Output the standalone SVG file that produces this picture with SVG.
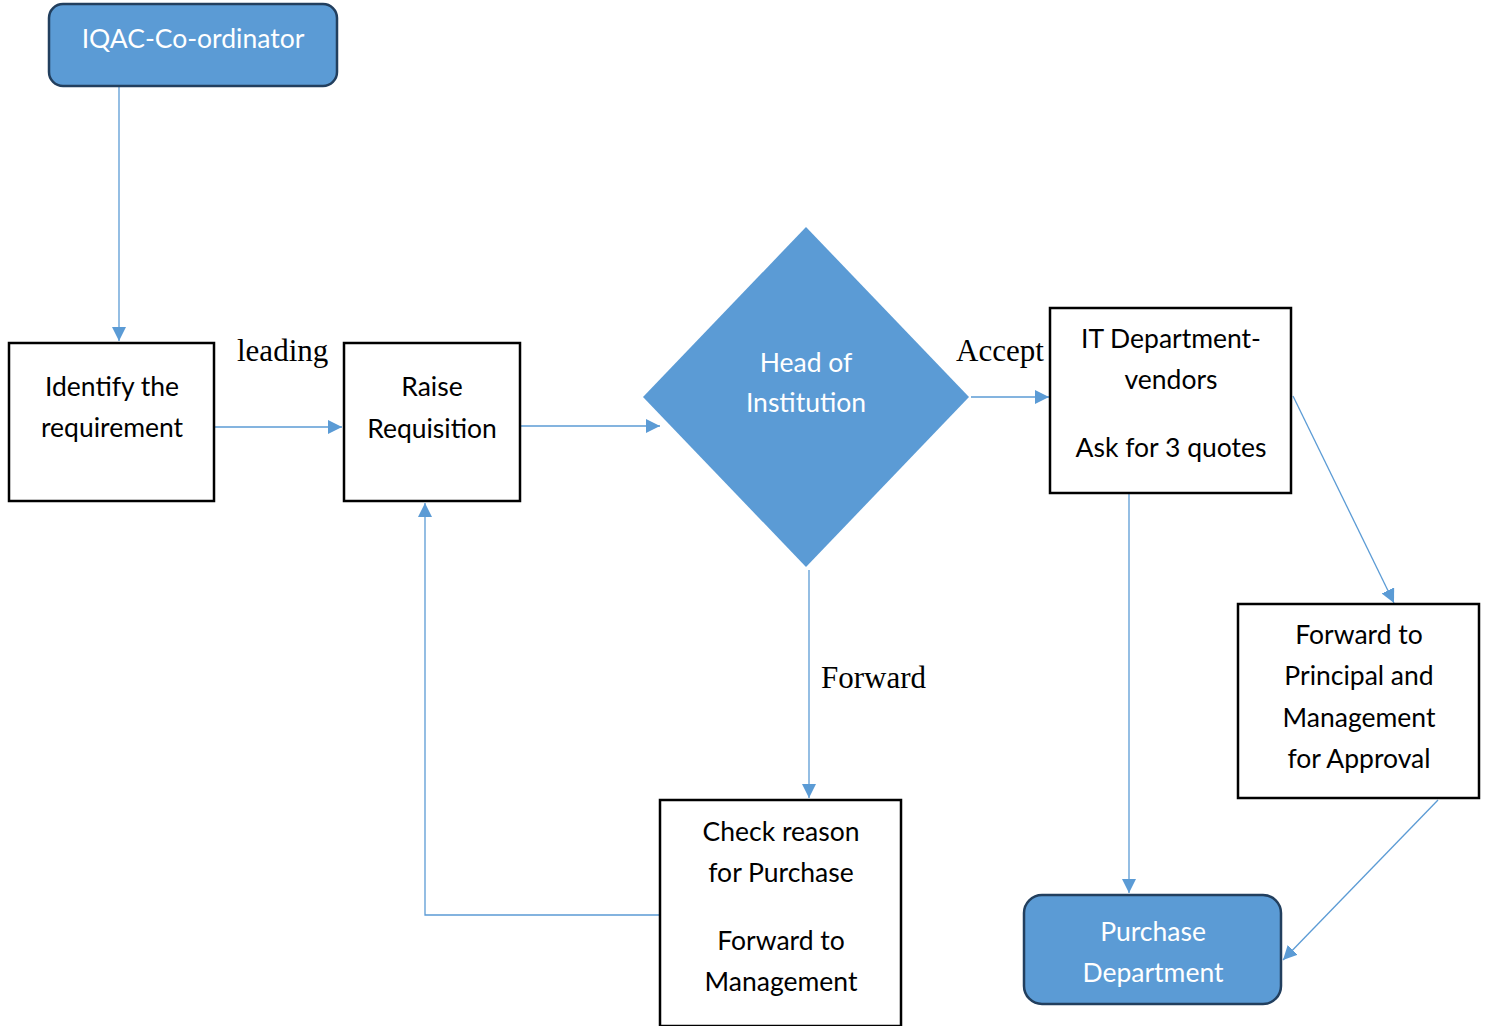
<svg xmlns="http://www.w3.org/2000/svg" width="1489" height="1026" viewBox="0 0 1489 1026">
<style>
.box{fill:#fff;stroke:#000;stroke-width:2.5}
.term{fill:#5B9BD5;stroke:#223F5E;stroke-width:2.5}
.t{font-family:Lato,"Open Sans","Liberation Sans",sans-serif;font-size:26.5px;fill:#000;text-anchor:middle}
.w{fill:#fff}
.lbl{font-family:"Liberation Serif",serif;font-size:31px;fill:#000}
.c{fill:none;stroke:#5B9BD5;stroke-width:1.3}
</style>
<defs>
<marker id="a" viewBox="0 0 10 10" refX="10" refY="5" markerWidth="14" markerHeight="14" markerUnits="userSpaceOnUse" orient="auto">
<path d="M0,0 L10,5 L0,10 z" fill="#5B9BD5"/>
</marker>
</defs>
<rect width="1489" height="1026" fill="#fff"/>
<g id="connectors">
<path class="c" d="M119,86 V341" marker-end="url(#a)"/>
<path class="c" d="M214,427 H342" marker-end="url(#a)"/>
<path class="c" d="M521,426 H660" marker-end="url(#a)"/>
<path class="c" d="M971,397 H1049" marker-end="url(#a)"/>
<path class="c" d="M1293,396 L1394,603" marker-end="url(#a)"/>
<path class="c" d="M1438,800 L1283,960" marker-end="url(#a)"/>
<path class="c" d="M1129,494 V893" marker-end="url(#a)"/>
<path class="c" d="M809,570 V798" marker-end="url(#a)"/>
<path class="c" d="M660,915 H425 V503" marker-end="url(#a)"/>
</g>
<g id="labels">
<text class="lbl" x="237" y="361">leading</text>
<text class="lbl" x="956" y="361">Accept</text>
<text class="lbl" x="821" y="688">Forward</text>
</g>
<g id="iqac">
<rect class="term" x="49" y="4" width="288" height="82" rx="14"/>
<text class="t w" x="193" y="48">IQAC-Co-ordinator</text>
</g>
<g id="identify">
<rect class="box" x="9" y="343" width="205" height="158"/>
<text class="t" x="112" y="396">Identify the</text>
<text class="t" x="112" y="437">requirement</text>
</g>
<g id="raise">
<rect class="box" x="344" y="343" width="176" height="158"/>
<text class="t" x="432" y="396">Raise</text>
<text class="t" x="432" y="438">Requisition</text>
</g>
<g id="head">
<polygon points="806,227 969,397 806,567 643,397" fill="#5B9BD5"/>
<text class="t w" x="806" y="372">Head of</text>
<text class="t w" x="806" y="412">Institution</text>
</g>
<g id="it">
<rect class="box" x="1050" y="308" width="241" height="185"/>
<text class="t" x="1171" y="348">IT Department-</text>
<text class="t" x="1171" y="389">vendors</text>
<text class="t" x="1171" y="457">Ask for 3 quotes</text>
</g>
<g id="principal">
<rect class="box" x="1238" y="604" width="241" height="194"/>
<text class="t" x="1359" y="644">Forward to</text>
<text class="t" x="1359" y="685">Principal and</text>
<text class="t" x="1359" y="727">Management</text>
<text class="t" x="1359" y="768">for Approval</text>
</g>
<g id="check">
<rect class="box" x="660" y="800" width="241" height="226"/>
<text class="t" x="781" y="841">Check reason</text>
<text class="t" x="781" y="882">for Purchase</text>
<text class="t" x="781" y="950">Forward to</text>
<text class="t" x="781" y="991">Management</text>
</g>
<g id="purchase">
<rect class="term" x="1024" y="895" width="257" height="109" rx="18"/>
<text class="t w" x="1153" y="941">Purchase</text>
<text class="t w" x="1153" y="982">Department</text>
</g>
</svg>
